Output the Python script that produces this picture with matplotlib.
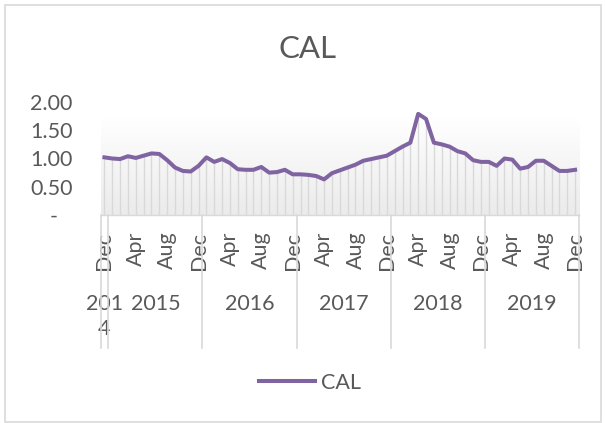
import matplotlib.pyplot as plt
import numpy as np
from matplotlib.colors import LinearSegmentedColormap
from matplotlib.lines import Line2D
from matplotlib.patches import Rectangle
from matplotlib.transforms import ScaledTranslation, blended_transform_factory

plt.rcParams['font.family'] = ['Lato', 'DejaVu Sans']

# monthly values, Dec 2014 .. Dec 2019
cal = [1.02, 1.00, 0.99, 1.04, 1.01, 1.05, 1.09, 1.08, 0.97, 0.84,
       0.78, 0.77, 0.87, 1.02, 0.94, 0.99, 0.92, 0.81, 0.80, 0.80,
       0.85, 0.75, 0.76, 0.80, 0.72, 0.72, 0.71, 0.69, 0.63, 0.74,
       0.79, 0.84, 0.89, 0.96, 0.99, 1.02, 1.05, 1.13, 1.21, 1.28,
       1.79, 1.70, 1.28, 1.25, 1.21, 1.13, 1.09, 0.97, 0.94, 0.94,
       0.87, 1.00, 0.98, 0.82, 0.85, 0.96, 0.96, 0.87, 0.78, 0.78,
       0.80]
month_labels = ['Dec', 'Apr', 'Aug'] * 5 + ['Dec']
year_labels = ['201\n4', '2015', '2016', '2017', '2018', '2019']
year_first = [0, 1, 13, 25, 37, 49]
year_last = [0, 12, 24, 36, 48, 60]
y_ticks = [0, 0.5, 1.0, 1.5, 2.0]
y_labels = ['-', '0.50', '1.00', '1.50', '2.00']

W, H = 605, 423
grey = '#595959'
light = '#d9d9d9'
purple = '#8064a2'

fig = plt.figure(figsize=(W / 100, H / 100), dpi=100)
ax = fig.add_axes([100.5 / W, 1 - 215 / H, (579 - 100.5) / W, (215 - 102) / H])

x = np.arange(len(cal))

# plot area gradient
cmap = LinearSegmentedColormap.from_list('bg', ['#ffffff', '#ebebeb'])
ax.imshow(np.linspace(0, 1, 256).reshape(-1, 1), cmap=cmap, aspect='auto',
          extent=[-0.5, len(cal) - 0.5, 0, 1.72], zorder=0)

ax.vlines(x, 0, cal, color=light, lw=1, zorder=1)
ax.plot(x, cal, color=purple, lw=2.9, solid_joinstyle='round', zorder=3, label='CAL')

ax.set_xlim(-0.5, len(cal) - 0.5)
ax.set_ylim(0, 2.0)

for s in ['top', 'right', 'left']:
    ax.spines[s].set_visible(False)
ax.spines['bottom'].set_color(light)
ax.spines['bottom'].set_linewidth(1)

ax.set_yticks(y_ticks, y_labels)
ax.tick_params(axis='y', length=0, pad=20, labelsize=15.5, labelcolor=grey)
dash = ax.get_yticklabels()[0]
dash.set_transform(dash.get_transform() + ScaledTranslation(-0.15, 0, fig.dpi_scale_trans))

ax.set_xticks(np.arange(0, len(cal), 4), month_labels, rotation=90)
ax.tick_params(axis='x', length=0, pad=12, labelsize=15.5, labelcolor=grey)

# year group labels and separators
tr = blended_transform_factory(ax.transData, fig.transFigure)
for lab, a, b in zip(year_labels, year_first, year_last):
    ax.text((a + b) / 2, 1 - 294 / H, lab, transform=tr, ha='center', va='top',
            fontsize=15.5, color=grey, linespacing=1.3)
seps = [-0.5] + [b + 0.5 for b in year_last]
for s in seps:
    fig.add_artist(Line2D([s, s], [1 - 215 / H, 1 - 348 / H], transform=tr,
                          color=light, lw=1.2))

fig.suptitle('CAL', x=307 / W, y=1 - 49 / H, va='center', fontsize=22.5, color=grey)

fig.legend(loc='center', bbox_to_anchor=(310 / W, 1 - 383 / H), frameon=False,
           fontsize=15.5, labelcolor=grey, handlelength=2.6, handletextpad=0.3)

fig.add_artist(Rectangle((5 / W, 1 - 421.5 / H), 596 / W, 416.5 / H,
                         transform=fig.transFigure, fill=False, ec=light, lw=1.2))

fig.savefig('out.png', dpi=100)
